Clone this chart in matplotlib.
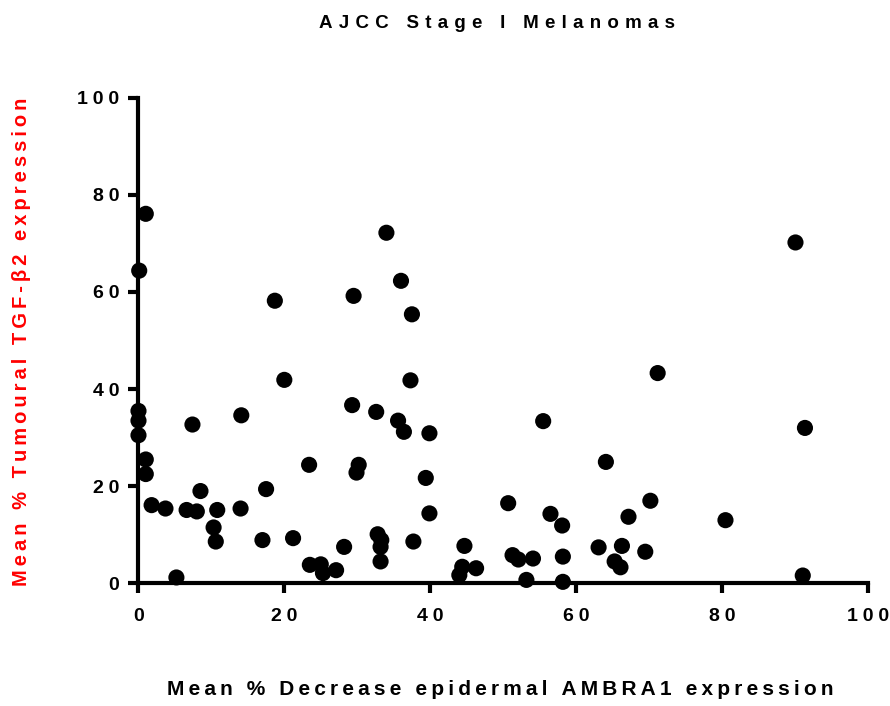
import matplotlib
matplotlib.use('Agg')
import matplotlib.pyplot as plt

# Mean % decrease epidermal AMBRA1 vs mean % tumoural TGF-b2
ambra1 = [1.0, 0.1, 0.0, 0.0, 0.0, 1.0, 1.0, 1.8, 3.7, 5.2, 6.6, 8.0, 7.4, 8.5,
          10.8, 10.3, 10.6, 14.0, 14.1, 17.0, 17.5, 18.7, 20.0, 21.2,
          34.0, 36.0, 29.5, 37.5, 37.3, 29.3, 32.6, 35.6, 36.4, 39.9, 23.4,
          30.2, 29.9, 39.4, 39.9, 32.8, 33.3, 33.2, 33.2, 37.7, 28.2, 23.5,
          25.0, 25.3, 27.1, 44.7, 44.4, 44.0, 46.3,
          71.2, 55.5, 64.1, 50.7, 70.2, 56.5, 58.1, 67.2, 63.1, 66.3, 69.5,
          51.3, 52.1, 54.1, 58.2, 65.3, 66.1, 53.2, 58.2,
          90.1, 91.4, 80.5, 91.1]
tgfb2 = [76.1, 64.4, 35.5, 33.5, 30.5, 25.5, 22.5, 16.1, 15.4, 1.2, 15.1, 14.8, 32.7, 19.0,
         15.1, 11.5, 8.6, 15.4, 34.6, 8.9, 19.4, 58.2, 41.9, 9.3,
         72.2, 62.3, 59.2, 55.4, 41.8, 36.7, 35.3, 33.5, 31.2, 30.9, 24.4,
         24.4, 22.8, 21.7, 14.4, 10.1, 8.9, 7.5, 4.5, 8.6, 7.5, 3.8,
         3.9, 2.1, 2.7, 7.7, 3.4, 1.7, 3.1,
         43.3, 33.4, 25.0, 16.5, 17.0, 14.3, 11.9, 13.7, 7.4, 7.7, 6.5,
         5.8, 4.9, 5.1, 5.5, 4.5, 3.3, 0.7, 0.3,
         70.2, 32.0, 13.0, 1.6]
ticks = [0, 20, 40, 60, 80, 100]

plt.rcParams['font.family'] = ['Liberation Sans', 'DejaVu Sans']
plt.rcParams['font.weight'] = 'bold'


def spaced(s, sep='\u2005'):
    # prism-style letter spacing
    return sep.join(s)


fig = plt.figure(figsize=(8.9, 7.06), dpi=100)
ax = fig.add_axes([0.1556, 0.1738, 0.8193, 0.6877])

ax.scatter(ambra1, tgfb2, s=135, color='black', edgecolors='none',
           clip_on=False, zorder=3)

ax.set_xlim(0, 100)
ax.set_ylim(0, 100)
ax.set_xticks(ticks)
ax.set_yticks(ticks)
ax.set_xticklabels([spaced(str(t)) for t in ticks])
ax.set_yticklabels([spaced(str(t)) for t in ticks])

for side in ['top', 'right']:
    ax.spines[side].set_visible(False)
for side in ['left', 'bottom']:
    ax.spines[side].set_linewidth(3)
    ax.spines[side].set_capstyle('projecting')

ax.tick_params(axis='both', direction='out', length=7, width=3,
               labelsize=14, colors='black')
ax.tick_params(axis='x', pad=11)
ax.tick_params(axis='y', pad=7)
for lab in ax.get_xticklabels() + ax.get_yticklabels():
    lab.set_fontweight('bold')

fig.text(0.558, 0.967, spaced('AJCC Stage I Melanomas', '\u2004'), ha='center', va='center',
         fontsize=13.5, fontweight='bold')
fig.text(0.562, 0.0227, spaced('Mean % Decrease epidermal AMBRA1 expression', '\u2009'),
         ha='center', va='center', fontsize=15, fontweight='bold')
fig.text(0.0247, 0.5156, spaced('Mean % Tumoural TGF-β2 expression', '\u2009'),
         ha='center', va='center', rotation=90, fontsize=14.5,
         fontweight='bold', color='red')

fig.savefig('out.png', dpi=100)
